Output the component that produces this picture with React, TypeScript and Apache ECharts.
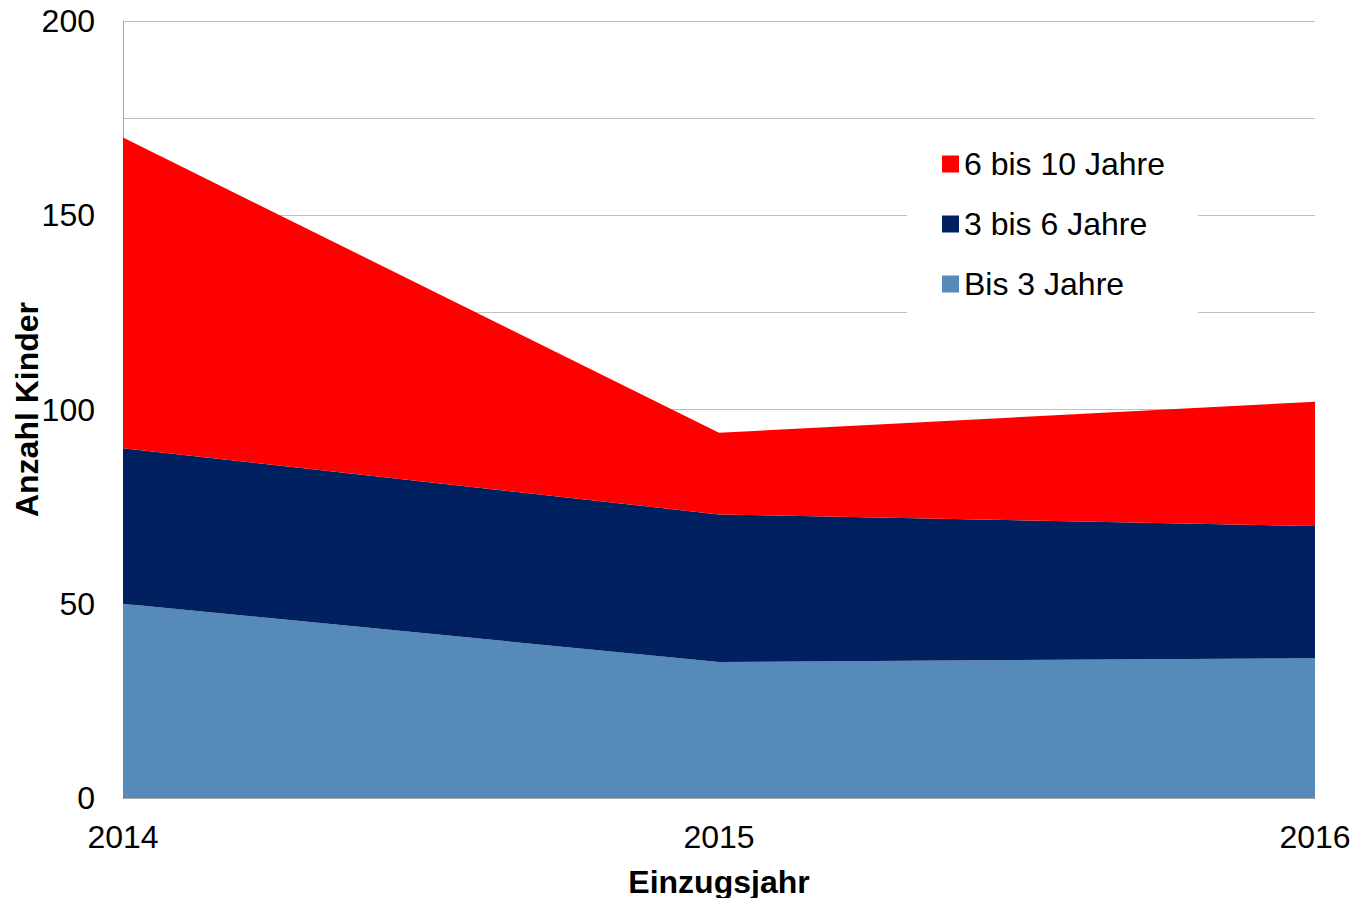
import React, { useEffect, useRef } from "react";
import * as echarts from "echarts";

const years = ["2014", "2015", "2016"];
const bis3 = [50, 35, 36];
const bis3bis6 = [40, 38, 34];
const bis6bis10 = [80, 21, 32];
const seriesNames = ["Bis 3 Jahre", "3 bis 6 Jahre", "6 bis 10 Jahre"];
const seriesColors = ["#558ABB", "#002060", "#FF0000"];

const FONT = "'Liberation Sans', Arial, sans-serif";

export default function App() {
  const ref = useRef<HTMLDivElement>(null);
  useEffect(() => {
    document.body.style.margin = "0";
    if (!ref.current) return;
    const chart = echarts.init(ref.current, undefined, { renderer: "svg" });
    const values = [bis3, bis3bis6, bis6bis10];
    chart.setOption({
      animation: false,
      backgroundColor: "#ffffff",
      textStyle: { fontFamily: FONT },
      grid: { left: 123, right: 38, top: 21, bottom: 100, containLabel: false, outerBoundsMode: "none" },
      legend: {
        orient: "vertical",
        left: 907,
        top: 132,
        padding: [16, 33, 16, 35],
        backgroundColor: "#ffffff",
        itemWidth: 17,
        itemHeight: 17,
        itemGap: 28,
        icon: "rect",
        data: ["6 bis 10 Jahre", "3 bis 6 Jahre", "Bis 3 Jahre"],
        textStyle: { fontSize: 32, lineHeight: 32, color: "#000", fontFamily: FONT },
      },
      xAxis: {
        type: "category",
        data: years,
        boundaryGap: false,
        name: "Einzugsjahr",
        nameLocation: "middle",
        nameGap: 68,
        nameMoveOverlap: false,
        nameTextStyle: { fontSize: 32, fontWeight: "bold", color: "#000", fontFamily: FONT },
        axisLine: { lineStyle: { color: "#A6A6A6", width: 1 } },
        axisTick: { show: false },
        axisLabel: { fontSize: 32, color: "#000", margin: 23, fontFamily: FONT },
        splitLine: { show: false },
      },
      yAxis: {
        type: "value",
        min: 0,
        max: 200,
        interval: 25,
        name: "Anzahl Kinder",
        nameLocation: "middle",
        nameGap: 80,
        nameMoveOverlap: false,
        nameTextStyle: { fontSize: 32, fontWeight: "bold", color: "#000", fontFamily: FONT },
        axisLine: { show: true, lineStyle: { color: "#A6A6A6", width: 1 } },
        axisTick: { show: false },
        axisLabel: {
          fontSize: 32,
          color: "#000",
          margin: 28,
          fontFamily: FONT,
          formatter: (v: number) => (v % 50 === 0 ? String(v) : ""),
        },
        splitLine: { show: true, lineStyle: { color: "#BFBFBF", width: 1 } },
      },
      series: seriesNames.map((name, i) => ({
        name,
        type: "line",
        stack: "total",
        data: values[i],
        symbol: "none",
        lineStyle: { width: 0 },
        itemStyle: { color: seriesColors[i] },
        areaStyle: { color: seriesColors[i], opacity: 1 },
      })),
    });
    return () => chart.dispose();
  }, []);
  return <div ref={ref} style={{ width: 1353, height: 898 }} />;
}
